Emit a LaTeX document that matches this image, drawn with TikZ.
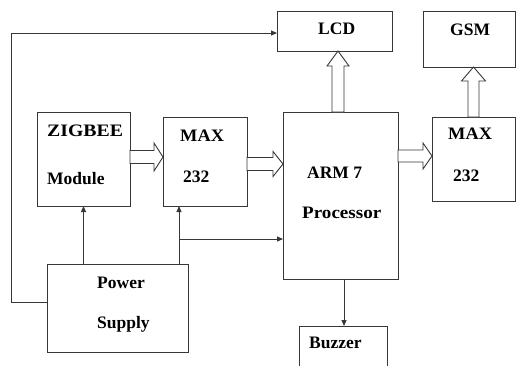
\documentclass[tikz,border=0pt]{standalone}
\usepackage{fontspec}
\setmainfont{Liberation Serif}
\usetikzlibrary{calc,arrows.meta}
\definecolor{linec}{RGB}{55,55,55}
% hollow horizontal arrow: #1 source, #2 target, #3 y centre, #4 shaft half width, #5 head half width, #6 head length
\newcommand\hollowH[6]{\draw[hollow] let \p1=(#1.east), \p2=(#2.west) in
  (\x1,#3pt+#4pt) -- (\x2-#6pt,#3pt+#4pt) -- (\x2-#6pt,#3pt+#5pt) -- (\x2,#3pt)
  -- (\x2-#6pt,#3pt-#5pt) -- (\x2-#6pt,#3pt-#4pt) -- (\x1,#3pt-#4pt) -- cycle;}
% hollow vertical arrow upward: #1 source, #2 target, #3 x centre, #4 shaft half width, #5 head half width, #6 head length
\newcommand\hollowV[6]{\draw[hollow] let \p1=(#1.north), \p2=(#2.south) in
  (#3pt-#4pt,\y1) -- (#3pt-#4pt,\y2-#6pt) -- (#3pt-#5pt,\y2-#6pt) -- (#3pt,\y2)
  -- (#3pt+#5pt,\y2-#6pt) -- (#3pt+#4pt,\y2-#6pt) -- (#3pt+#4pt,\y1) -- cycle;}
\begin{document}
\begin{tikzpicture}[x=1pt,y=1pt,
  box/.style={draw=linec, line width=0.9pt, inner sep=0pt, outer sep=0pt, anchor=north west},
  txt/.style={anchor=base west, inner sep=0pt, text=black, font=\fontsize{17.5}{20}\selectfont\bfseries},
  wire/.style={draw=linec, line width=0.9pt},
  arr/.style={wire, -{Triangle[length=6pt,width=5pt]}},
  hollow/.style={draw=linec, line width=0.9pt, fill=white}]
\clip (0,0) rectangle (516,-365);
\fill[white] (0,0) rectangle (516,-365);

% boxes
\node[box, minimum width=93pt,  minimum height=94pt] (zig)  at (37,-112) {};
\node[box, minimum width=84pt,  minimum height=89pt] (max1) at (163,-117) {};
\node[box, minimum width=115pt, minimum height=167pt] (arm) at (283,-112) {};
\node[box, minimum width=115pt, minimum height=40pt] (lcd)  at (277,-11) {};
\node[box, minimum width=92pt,  minimum height=56pt] (gsm)  at (423,-11) {};
\node[box, minimum width=83pt,  minimum height=84pt] (max2) at (432,-117) {};
\node[box, minimum width=141pt, minimum height=88pt] (pow)  at (47,-264) {};
\node[box, minimum width=88pt,  minimum height=60pt] (buz)  at (299,-326) {};

% texts
\node[txt] (tzig)  at (47,-136)  {\scalebox{1.13}[1]{ZIGBEE}};
\node[txt] (tmod)  at (47,-184)  {Module};
\node[txt] (tmax1) at (180,-141) {\scalebox{1.05}[1]{MAX}};
\node[txt] (tnum1) at (183,-182) {232};
\node[txt] (tarm)  at (307,-178) {ARM 7};
\node[txt] (tproc) at (302,-218) {\scalebox{1.09}[1]{Processor}};
\node[txt] (tlcd)  at (318,-34)  {LCD};
\node[txt] (tgsm)  at (450,-35)  {GSM};
\node[txt] (tmax2) at (448,-139) {\scalebox{1.05}[1]{MAX}};
\node[txt] (tnum2) at (453,-181) {232};
\node[txt] (tpow)  at (97,-288)  {Power};
\node[txt] (tsup)  at (97,-328)  {Supply};
\node[txt] (tbuz)  at (309,-348) {Buzzer};

% hollow (bus) arrows
\hollowH{zig}{max1}{-157}{6.5}{14}{9}
\hollowH{max1}{arm}{-164}{6.5}{12.5}{10}
\hollowH{arm}{max2}{-156}{6}{13}{9}
\hollowV{arm}{lcd}{338}{6}{11}{15}
\hollowV{max2}{gsm}{473.5}{5.5}{12}{14}

% thin arrows
\coordinate (j)  at (179,-239);
\coordinate (c1) at (11,-302);
\coordinate (c2) at (11,-33);
\coordinate (b)  at (344,0);
\draw[arr] (zig.south |- pow.north) -- (zig.south);
\draw[arr] (j |- pow.north) -- (j |- max1.south);
\draw[arr] (j) -- (j -| arm.west);
\draw[arr] (c1 -| pow.west) -- (c1) -- (c2) -- (c2 -| lcd.west);
\draw[arr] (b |- arm.south) -- (b |- buz.north);
\end{tikzpicture}
\end{document}
